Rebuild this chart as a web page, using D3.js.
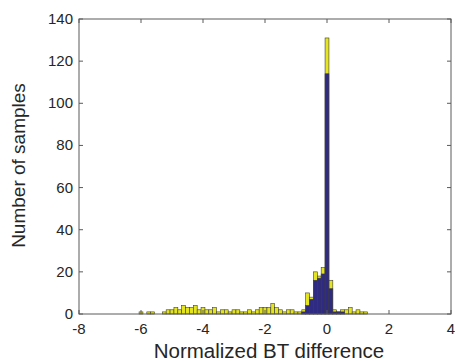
<!DOCTYPE html>
<html>
<head>
<meta charset="utf-8">
<script src="https://cdn.jsdelivr.net/npm/d3@7"></script>
<style>
  body { margin: 0; background: #fff; }
  text { font-family: "Liberation Sans", Arial, sans-serif; fill: #262626; }
</style>
</head>
<body>
<svg id="hist" width="455" height="361"></svg>
<script>
// bin centres (width 0.125) and counts
var binCenters = [-6, -5.875, -5.75, -5.625, -5.5, -5.375, -5.25, -5.125, -5, -4.875,
    -4.75, -4.625, -4.5, -4.375, -4.25, -4.125, -4, -3.875, -3.75, -3.625,
    -3.5, -3.375, -3.25, -3.125, -3, -2.875, -2.75, -2.625, -2.5, -2.375,
    -2.25, -2.125, -2, -1.875, -1.75, -1.625, -1.5, -1.375, -1.25, -1.125,
    -1, -0.875, -0.75, -0.625, -0.5, -0.375, -0.25, -0.125, 0, 0.125,
    0.25, 0.375, 0.5, 0.625, 0.75, 0.875, 1, 1.125, 1.25];
var binWidth = 0.125;

var yellowCounts = [1, 0, 1, 1, 0, 0, 1, 2, 2, 3,
    2, 4, 3, 3, 4, 2, 3, 2, 2, 3,
    1, 2, 2, 1, 2, 2, 1, 1, 2, 1,
    2, 3, 3, 3, 5, 3, 2, 1, 2, 2,
    1, 1, 2, 10, 8, 20, 18, 22, 131, 16,
    2, 1, 2, 2, 3, 1, 2, 1, 1];

var navyCounts = [0, 0, 0, 0, 0, 0, 0, 0, 0, 0,
    0, 0, 0, 0, 0, 0, 0, 0, 0, 0,
    0, 0, 0, 0, 0, 0, 0, 0, 0, 0,
    0, 0, 0, 0, 0, 0, 0, 0, 0, 0,
    0, 0, 1, 4, 7, 16, 17, 19, 114, 12,
    1, 1, 1, 0, 0, 0, 0, 0, 0];

var xTicks = [-8, -6, -4, -2, 0, 2, 4];
var yTicks = [0, 20, 40, 60, 80, 100, 120, 140];

var svg = d3.select("#hist");
var plotLeft = 79, plotRight = 451, plotTop = 19, plotBottom = 314;

var x = d3.scaleLinear().domain([-8, 4]).range([plotLeft, plotRight]);
var y = d3.scaleLinear().domain([0, 140]).range([plotBottom, plotTop]);

function drawBars(counts, color) {
    var data = binCenters.map(function (c, i) { return { c: c, n: counts[i] }; })
        .filter(function (d) { return d.n > 0; });
    svg.append("g").selectAll("rect")
        .data(data)
        .join("rect")
        .attr("x", function (d) { return x(d.c - binWidth / 2); })
        .attr("width", function (d) { return x(d.c + binWidth / 2) - x(d.c - binWidth / 2); })
        .attr("y", function (d) { return y(d.n); })
        .attr("height", function (d) { return y(0) - y(d.n); })
        .attr("fill", color)
        .attr("stroke", "#3c3c3c")
        .attr("stroke-width", 0.6);
}

drawBars(yellowCounts, "#e4e420");
drawBars(navyCounts, "#2f2a82");

// axes: MATLAB style box with inward ticks
var axisColor = "#5a5a5a";
var tickLen = 4;

svg.append("rect")
    .attr("x", plotLeft).attr("y", plotTop)
    .attr("width", plotRight - plotLeft).attr("height", plotBottom - plotTop)
    .attr("fill", "none").attr("stroke", axisColor).attr("stroke-width", 1);

var xt = svg.append("g");
xTicks.forEach(function (t) {
    xt.append("line").attr("x1", x(t)).attr("x2", x(t))
        .attr("y1", plotBottom).attr("y2", plotBottom - tickLen).attr("stroke", axisColor);
    xt.append("line").attr("x1", x(t)).attr("x2", x(t))
        .attr("y1", plotTop).attr("y2", plotTop + tickLen).attr("stroke", axisColor);
    xt.append("text").attr("x", x(t)).attr("y", plotBottom + 20)
        .attr("text-anchor", "middle").style("font-size", "15px").text(t);
});

var yt = svg.append("g");
yTicks.forEach(function (t) {
    yt.append("line").attr("x1", plotLeft).attr("x2", plotLeft + tickLen)
        .attr("y1", y(t)).attr("y2", y(t)).attr("stroke", axisColor);
    yt.append("line").attr("x1", plotRight).attr("x2", plotRight - tickLen)
        .attr("y1", y(t)).attr("y2", y(t)).attr("stroke", axisColor);
    yt.append("text").attr("x", plotLeft - 6).attr("y", y(t) + 5)
        .attr("text-anchor", "end").style("font-size", "15px").text(t);
});

svg.append("text")
    .attr("x", (plotLeft + plotRight) / 2 + 4).attr("y", 358)
    .attr("text-anchor", "middle").style("font-size", "20.5px")
    .text("Normalized BT difference");

svg.append("text")
    .attr("transform", "translate(25," + ((plotTop + plotBottom) / 2 - 1) + ") rotate(-90)")
    .attr("text-anchor", "middle").style("font-size", "19px")
    .text("Number of samples");
</script>
</body>
</html>
